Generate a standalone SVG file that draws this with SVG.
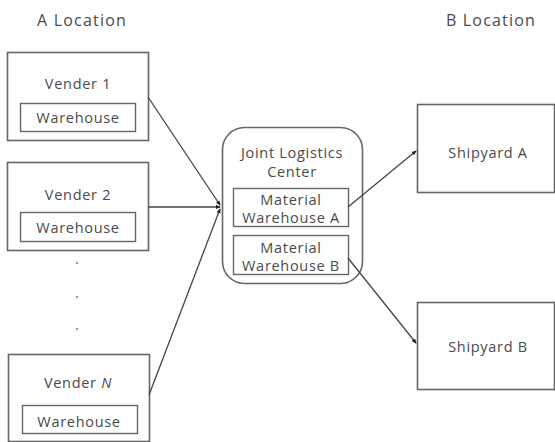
<svg xmlns="http://www.w3.org/2000/svg" width="555" height="442" viewBox="0 0 555 442">
<defs>
<marker id="ah" viewBox="0 0 6 6" refX="5" refY="3" markerWidth="5" markerHeight="5" markerUnits="userSpaceOnUse" orient="auto">
<path d="M0,0.5 L6,3 L0,5.5 Z" fill="#222"/>
</marker>
</defs>
<style>
text{font-family:"Open Sans","Noto Sans",sans-serif;font-size:14.5px;letter-spacing:0.7px;fill:#4a4a4a;text-anchor:middle}
.hd{font-size:16px;letter-spacing:1.2px}
.box{fill:#fff;stroke:#666;stroke-width:1.6}
.in{fill:#fff;stroke:#666;stroke-width:1.4}
.ln{stroke:#444;stroke-width:1.3;fill:none;marker-end:url(#ah)}
.dot{fill:#999}
</style>
<rect width="555" height="442" fill="#fff"/>
<text class="hd" x="82" y="26">A Location</text>
<text class="hd" x="491" y="26">B Location</text>
<g id="vender1">
<rect class="box" x="7.5" y="52.5" width="141" height="88"/>
<text x="78" y="89">Vender 1</text>
<rect class="in" x="20.5" y="103.5" width="115" height="28"/>
<text x="78" y="123">Warehouse</text>
</g>
<g id="vender2">
<rect class="box" x="7.5" y="162.5" width="141" height="88"/>
<text x="78" y="200">Vender 2</text>
<rect class="in" x="20.5" y="212.5" width="115" height="29"/>
<text x="78" y="233">Warehouse</text>
</g>
<g id="dots">
<circle class="dot" cx="77" cy="263" r="1.2"/>
<circle class="dot" cx="77" cy="297" r="1.2"/>
<circle class="dot" cx="77" cy="329" r="1.2"/>
</g>
<g id="venderN">
<rect class="box" x="8.5" y="354.5" width="141" height="87"/>
<text x="78" y="388">Vender <tspan font-style="italic">N</tspan></text>
<rect class="in" x="22.5" y="405.5" width="115" height="28"/>
<text x="79" y="427">Warehouse</text>
</g>
<g id="jlc">
<rect class="box" x="222.5" y="127.5" width="140" height="156" rx="22"/>
<text x="292" y="158">Joint Logistics</text>
<text x="292" y="177">Center</text>
</g>
<g id="mwa">
<rect class="in" x="233.5" y="188.5" width="115" height="38"/>
<text x="291" y="205">Material</text>
<text x="291" y="223">Warehouse A</text>
</g>
<g id="mwb">
<rect class="in" x="233.5" y="235.5" width="115" height="39"/>
<text x="291" y="253">Material</text>
<text x="291" y="271">Warehouse B</text>
</g>
<g id="shipyardA">
<rect class="box" x="417.5" y="104.5" width="137" height="88"/>
<text x="488" y="158">Shipyard A</text>
</g>
<g id="shipyardB">
<rect class="box" x="417.5" y="302.5" width="137" height="87"/>
<text x="488" y="352">Shipyard B</text>
</g>
<g id="connectors">
<path class="ln" d="M148,97 L220,205"/>
<path class="ln" d="M148,207 L220,207"/>
<path class="ln" d="M149,395 L220,209"/>
<path class="ln" d="M348,207 L416,151"/>
<path class="ln" d="M348,258 L416,343"/>
</g>
</svg>
